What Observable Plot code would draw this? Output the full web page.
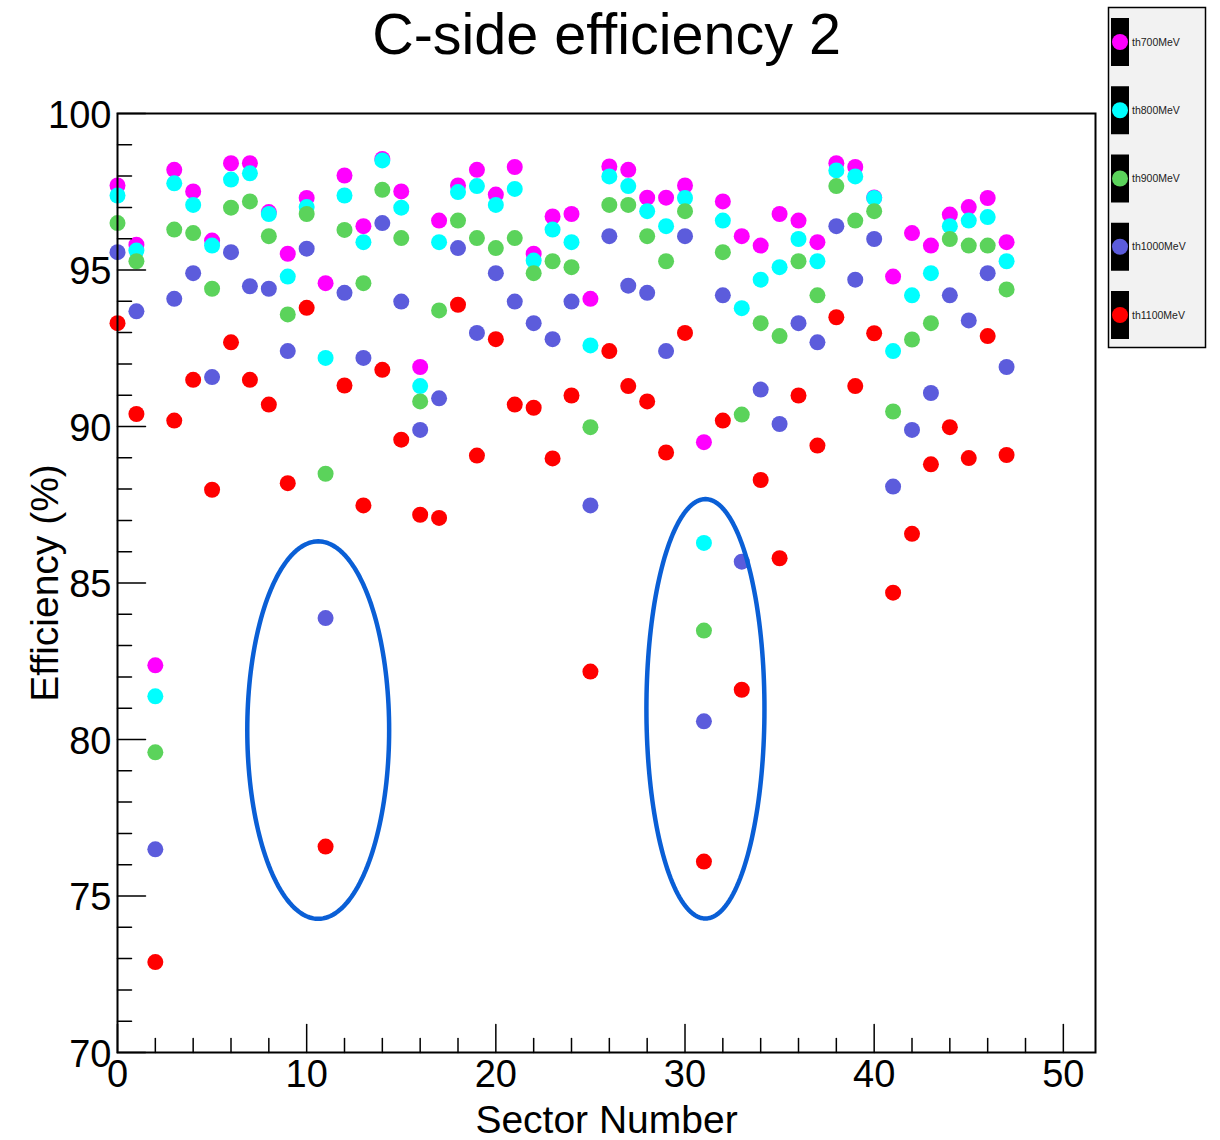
<!DOCTYPE html>
<html>
<head>
<meta charset="utf-8">
<script src="https://cdn.jsdelivr.net/npm/d3@7"></script>
<script src="https://cdn.jsdelivr.net/npm/@observablehq/plot@0.6"></script>
<style>
  html, body { margin: 0; padding: 0; background: #fff; }
  #chart svg { display: block; }
</style>
</head>
<body>
<div id="chart"></div>
<script>
// ---- data ----
const sectors = [0,1,2,3,4,5,6,7,8,9,10,11,12,13,14,15,16,17,18,19,20,21,22,23,24,25,26,27,28,29,30,31,32,33,34,35,36,37,38,39,40,41,42,43,44,45,46,47];
const seriesNames = ["th700MeV","th800MeV","th900MeV","th1000MeV","th1100MeV"];
const seriesColors = ["#ff00ff","#00ffff","#5bd35b","#5c5cdc","#ff0000"];
const th700 = [97.70,95.81,82.37,98.20,97.51,95.94,98.41,98.41,96.85,95.52,97.30,94.58,98.02,96.40,98.55,97.51,91.90,96.58,97.70,98.20,97.41,98.29,95.52,96.71,96.79,94.08,98.31,98.20,97.31,97.31,97.70,89.50,97.19,96.08,95.78,96.79,96.58,95.89,98.41,98.29,97.32,94.79,96.18,95.78,96.77,97.01,97.30,95.89];
const th800 = [97.38,95.62,81.38,97.77,97.08,95.78,97.89,98.09,96.79,94.79,97.01,92.19,97.38,95.89,98.50,96.99,91.29,95.89,97.49,97.68,97.08,97.59,95.30,96.29,95.89,92.59,97.99,97.68,96.88,96.40,97.30,86.28,96.58,93.78,94.69,95.09,95.99,95.28,98.18,97.99,97.30,92.41,94.19,94.90,96.40,96.58,96.69,95.28];
const th900 = [96.50,95.28,79.59,96.29,96.18,94.40,96.99,97.19,96.08,93.58,96.79,88.49,96.28,94.58,97.56,96.02,90.80,93.71,96.58,96.02,95.70,96.02,94.90,95.28,95.09,89.98,97.08,97.08,96.08,95.28,96.88,83.48,95.57,90.38,93.30,92.89,95.28,94.19,97.68,96.58,96.88,90.48,92.78,93.30,95.99,95.78,95.78,94.38];
const th1000 = [95.57,93.68,76.49,94.08,94.90,91.58,95.57,94.48,94.40,92.41,95.68,83.88,94.27,92.19,96.50,93.99,89.89,90.90,95.70,92.99,94.90,93.99,93.30,92.79,93.99,87.48,96.08,94.50,94.27,92.41,96.08,80.58,94.19,85.68,91.18,90.08,93.30,92.69,96.40,94.69,95.99,88.08,89.89,91.07,94.19,93.39,94.90,91.90];
const th1100 = [93.30,90.40,72.89,90.19,91.49,87.98,92.69,91.49,90.70,88.19,93.79,76.58,91.31,87.48,91.81,89.58,87.18,87.08,93.89,89.07,92.79,90.70,90.60,88.98,90.99,82.17,92.41,91.29,90.80,89.17,92.99,76.10,90.19,81.59,88.29,85.79,90.99,89.39,93.49,91.29,92.98,84.69,86.57,88.79,89.98,88.99,92.89,89.09];

const xMajorTicks = [0,10,20,30,40,50];
const xMinorTicks = [2,4,6,8,12,14,16,18,22,24,26,28,32,34,36,38,42,44,46,48];
const yMajorTicks = [70,75,80,85,90,95,100];
const yMinorTicks = [71,72,73,74,76,77,78,79,81,82,83,84,86,87,88,89,91,92,93,94,96,97,98,99];

// highlight ellipses (data units): center x, center y, half-width, half-height
const ellipseCx = [10.61, 31.08];
const ellipseCy = [80.30, 80.98];
const ellipseRx = [3.75, 3.12];
const ellipseRy = [6.03, 6.70];

const titleText = "C-side efficiency 2";
const xLabel = "Sector Number";
const yLabel = "Efficiency (%)";

// ---- build ----
const allSeries = [th700, th800, th900, th1000, th1100];
const points = [];
allSeries.forEach((vals, si) => {
  vals.forEach((v, i) => points.push({sector: sectors[i], value: v, series: seriesNames[si]}));
});

const ellipsePts = [];
ellipseCx.forEach((cx, k) => {
  for (let a = 0; a < 180; a++) {
    const t = a / 180 * 2 * Math.PI;
    ellipsePts.push({id: k, x: cx + ellipseRx[k] * Math.cos(t), y: ellipseCy[k] + ellipseRy[k] * Math.sin(t)});
  }
});

const lineShape = {draw(ctx, l) { ctx.moveTo(0, 0); ctx.lineTo(0, -l); }};
const font = "'Liberation Sans', Arial, Helvetica, sans-serif";

const plot = Plot.plot({
  width: 1220,
  height: 1140,
  marginLeft: 117,
  marginRight: 125,
  marginTop: 113,
  marginBottom: 88,
  style: {fontFamily: font, background: "#fff", overflow: "visible"},
  x: {domain: [0, 51.7], axis: null},
  y: {domain: [70, 100], axis: null},
  color: {domain: seriesNames, range: seriesColors},
  marks: [
    Plot.dot(points, {x: "sector", y: "value", fill: "series", r: 8, stroke: null}),
    Plot.line(ellipsePts, {x: "x", y: "y", z: "id", stroke: "#0a5fd6", strokeWidth: 4.5, curve: "linear-closed"}),
    // axis ticks (inside the frame, ROOT style)
    Plot.vector(xMajorTicks, {x: d => d, frameAnchor: "bottom", length: 28, anchor: "start", shape: lineShape, stroke: "black", strokeWidth: 1.5}),
    Plot.vector(xMinorTicks, {x: d => d, frameAnchor: "bottom", length: 14, anchor: "start", shape: lineShape, stroke: "black", strokeWidth: 1.5}),
    Plot.vector(yMajorTicks, {y: d => d, frameAnchor: "left", length: 28, rotate: 90, anchor: "start", shape: lineShape, stroke: "black", strokeWidth: 1.5}),
    Plot.vector(yMinorTicks, {y: d => d, frameAnchor: "left", length: 14, rotate: 90, anchor: "start", shape: lineShape, stroke: "black", strokeWidth: 1.5}),
    Plot.frame({stroke: "black", strokeWidth: 2}),
    // tick labels
    Plot.text(yMajorTicks, {y: d => d, frameAnchor: "left", text: d => String(d), textAnchor: "end", dx: -6, dy: 2, fontSize: 38, fill: "black"}),
    Plot.text(xMajorTicks, {x: d => d, frameAnchor: "bottom", text: d => String(d), lineAnchor: "top", dy: 8, fontSize: 38, fill: "black"}),
    // titles
    Plot.text([titleText], {frameAnchor: "top", text: d => d, lineAnchor: "bottom", dy: -60, fontSize: 57.5, fill: "black"}),
    Plot.text([xLabel], {frameAnchor: "bottom", text: d => d, lineAnchor: "bottom", dy: 80, fontSize: 39, fill: "black"}),
    Plot.text([yLabel], {frameAnchor: "left", text: d => d, textAnchor: "middle", rotate: -90, dx: -72, fontSize: 39, fill: "black"})
  ]
});

document.getElementById("chart").appendChild(plot);

// ---- legend (ROOT TLegend style) ----
const svg = d3.select(plot);
const lg = svg.append("g").attr("font-family", font).attr("text-anchor", "start");
lg.append("rect").attr("x", 1108.5).attr("y", 7.5).attr("width", 97).attr("height", 340)
  .attr("fill", "#f2f2f2").attr("stroke", "black").attr("stroke-width", 1.5);
const legendY = d3.scalePoint().domain(seriesNames).range([42, 315]);
seriesNames.forEach((name, i) => {
  const cy = legendY(name);
  lg.append("rect").attr("x", 1111).attr("y", cy - 24).attr("width", 18).attr("height", 48).attr("fill", "black");
  lg.append("circle").attr("cx", 1120).attr("cy", cy).attr("r", 8).attr("fill", seriesColors[i]);
  lg.append("text").attr("x", 1132).attr("y", cy).attr("dy", "0.35em").attr("text-anchor", "start")
    .attr("font-size", 10.5).attr("fill", "#222").text(name);
});
</script>
</body>
</html>
